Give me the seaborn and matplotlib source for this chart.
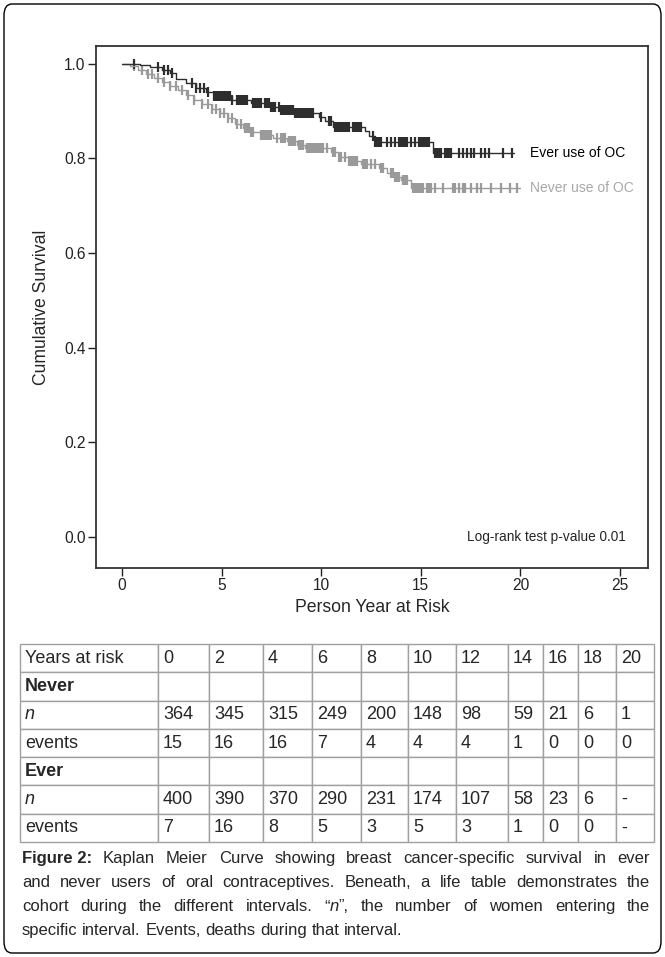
import numpy as np
import pandas as pd
import matplotlib
matplotlib.use("Agg")
import matplotlib.pyplot as plt
from matplotlib.patches import FancyBboxPatch
import seaborn as sns

# Kaplan-Meier step points (years, cumulative survival)
ever_time = [0, 0.9, 1.4, 2.0, 2.4, 2.7, 3.2, 3.7, 4.2, 4.6, 5.5, 6.5, 7.5, 8.0, 8.7,
             9.9, 10.2, 10.6, 12.2, 12.4, 12.7, 15.6, 19.7]
ever_surv = [1.0, 0.996, 0.992, 0.986, 0.979, 0.968, 0.958, 0.949, 0.940, 0.931, 0.924,
             0.916, 0.909, 0.902, 0.896, 0.888, 0.878, 0.867, 0.857, 0.846, 0.834, 0.811, 0.811]
never_time = [0, 0.4, 0.8, 1.2, 1.6, 2.0, 2.4, 2.8, 3.2, 3.6, 4.0, 4.5, 4.9, 5.3, 5.7, 6.1,
              6.5, 7.0, 7.6, 8.3, 8.8, 9.2, 10.5, 10.9, 11.4, 12.0, 12.9, 13.3, 13.7, 14.0,
              14.5, 20.0]
never_surv = [1.0, 0.994, 0.986, 0.978, 0.970, 0.962, 0.953, 0.944, 0.934, 0.922, 0.914,
              0.905, 0.895, 0.884, 0.872, 0.863, 0.856, 0.849, 0.842, 0.836, 0.828, 0.822,
              0.813, 0.803, 0.795, 0.788, 0.779, 0.769, 0.760, 0.754, 0.737, 0.737]

# censoring times (the "+" marks)
ever_cens = [0.6, 1.8, 2.1, 2.3, 2.5, 3.5, 3.7, 3.9, 4.1, 4.3,
             4.6, 4.65, 4.7, 4.75, 4.8, 4.85, 4.9, 4.95, 5.0, 5.05, 5.1, 5.2, 5.3, 5.4, 5.5,
             5.8, 5.85, 5.9, 6.0, 6.1, 6.2, 6.3,
             6.6, 6.7, 6.8, 6.9, 7.0,
             7.2, 7.3, 7.4, 7.5, 7.6, 7.7,
             7.9, 8.0, 8.1, 8.2, 8.3, 8.4, 8.5, 8.6, 8.7, 8.8, 8.9, 9.0, 9.1, 9.2, 9.3,
             9.4, 9.5, 9.6,
             10.0, 10.4, 10.5, 10.7, 10.8, 10.9, 11.0, 11.1, 11.2, 11.3, 11.4, 11.6, 11.7,
             11.8, 11.9, 12.0,
             12.6, 12.7, 12.8, 12.9, 13.0, 13.3, 13.5, 13.7, 13.9, 14.0, 14.1, 14.2, 14.3,
             14.5, 14.7, 14.9, 15.0, 15.1, 15.2, 15.3, 15.4,
             15.7, 15.75, 15.8, 15.9, 16.0, 16.2, 16.3, 16.4, 16.5,
             16.9, 17.1, 17.3, 17.5, 17.65, 18.0, 18.2, 18.4, 19.1, 19.6]
never_cens = [0.6, 1.0, 1.3, 1.5, 1.8, 2.1, 2.4, 2.7, 3.0, 3.3, 3.6, 4.0, 4.3, 4.5, 4.7,
              4.9, 5.1, 5.3, 5.5, 5.8, 6.0, 6.2, 6.3, 6.4, 6.5, 6.6,
              7.0, 7.1, 7.2, 7.3, 7.4, 7.5, 7.8, 8.0, 8.1, 8.2, 8.4, 8.5, 8.6, 8.7,
              8.9, 9.0, 9.1, 9.3, 9.4, 9.5, 9.6, 9.7, 9.8, 9.9, 10.0, 10.1, 10.3,
              10.6, 10.7, 10.9, 11.0, 11.2, 11.4, 11.5, 11.6, 11.7, 11.8, 12.1, 12.2, 12.3,
              12.5, 12.7, 13.0, 13.1, 13.5, 13.6, 13.7, 13.8, 13.9, 14.1, 14.2, 14.3,
              14.6, 14.7, 14.8, 14.9, 15.0, 15.1, 15.3, 15.4, 15.5, 15.7, 16.1, 16.6, 16.7,
              16.9, 17.1, 17.2, 17.5, 17.8, 18.0, 18.5, 19.0, 19.5, 19.85]

# life table
years_at_risk = ['0', '2', '4', '6', '8', '10', '12', '14', '16', '18', '20']
never_n = ['364', '345', '315', '249', '200', '148', '98', '59', '21', '6', '1']
never_events = ['15', '16', '16', '7', '4', '4', '4', '1', '0', '0', '0']
ever_n = ['400', '390', '370', '290', '231', '174', '107', '58', '23', '6', '-']
ever_events = ['7', '16', '8', '5', '3', '5', '3', '1', '0', '0', '-']

DARK = '#2e2e2e'
GREY = '#9a9a9a'

W, H = 665, 957


def step_value(times, surv, t):
    idx = np.searchsorted(times, t, side='right') - 1
    return np.asarray(surv)[idx]


curves = pd.concat([
    pd.DataFrame({'time': ever_time, 'surv': ever_surv, 'group': 'Ever'}),
    pd.DataFrame({'time': never_time, 'surv': never_surv, 'group': 'Never'}),
])
cens = pd.concat([
    pd.DataFrame({'time': ever_cens, 'surv': step_value(ever_time, ever_surv, ever_cens),
                  'group': 'Ever'}),
    pd.DataFrame({'time': never_cens, 'surv': step_value(never_time, never_surv, never_cens),
                  'group': 'Never'}),
])
pal = {'Ever': DARK, 'Never': GREY}

sns.set_style("ticks")
plt.rcParams['font.family'] = ['Liberation Sans', 'DejaVu Sans']

fig = plt.figure(figsize=(W / 100, H / 100), dpi=100)

# outer rounded frame
fig.patches.append(FancyBboxPatch((4 / W, 4 / H), (W - 8) / W, (H - 8) / H,
                                  boxstyle="round,pad=0,rounding_size=0.012",
                                  transform=fig.transFigure, fill=False,
                                  edgecolor='black', linewidth=1.0))

# ---- survival plot
ax = fig.add_axes([96 / W, 1 - 568 / H, (648 - 96) / W, (568 - 46) / H])
# draw Never first so Ever sits on top
for g in ['Never', 'Ever']:
    sns.lineplot(data=curves[curves.group == g], x='time', y='surv', color=pal[g],
                 drawstyle='steps-post', estimator=None, linewidth=1.0, ax=ax, legend=False)
    sns.scatterplot(data=cens[cens.group == g], x='time', y='surv', color=pal[g],
                    marker='|', s=42, linewidth=1.6, ax=ax, legend=False)

ax.set_xlim(-1.3, 26.4)
ax.set_ylim(-0.065, 1.037)
ax.set_xticks([0, 5, 10, 15, 20, 25])
ax.set_yticks([0.0, 0.2, 0.4, 0.6, 0.8, 1.0])
ax.set_yticklabels(['0.0', '0.2', '0.4', '0.6', '0.8', '1.0'])
ax.tick_params(labelsize=11.2, length=6, width=1.0, colors='#222222', pad=1.5)
for sp in ax.spines.values():
    sp.set_visible(True)
    sp.set_linewidth(1.3)
    sp.set_color('#333333')
ax.set_xlabel('Person Year at Risk', fontsize=12.7, labelpad=4)
ax.set_ylabel('Cumulative Survival', fontsize=12.7, labelpad=10)

ax.text(20.5, ever_surv[-1], 'Ever use of OC', fontsize=10, color='black', va='center')
ax.text(20.5, never_surv[-1], 'Never use of OC', fontsize=10, color='#a8a8a8', va='center')
ax.text(25.3, 0.0, 'Log-rank test p-value 0.01', fontsize=9.8, ha='right', va='center')

# ---- life table
tax = fig.add_axes([20 / W, 1 - 842 / H, (654 - 20) / W, (842 - 644) / H])
tax.axis('off')
rows = [['Years at risk'] + years_at_risk,
        ['Never'] + [''] * len(years_at_risk),
        ['n'] + never_n,
        ['events'] + never_events,
        ['Ever'] + [''] * len(years_at_risk),
        ['n'] + ever_n,
        ['events'] + ever_events]
col_px = [138, 51, 54, 49, 49, 47, 48, 52, 35, 35, 38, 38]
col_w = [c / sum(col_px) for c in col_px]
tbl = tax.table(cellText=rows, colWidths=col_w, cellLoc='left', bbox=[0, 0, 1, 1])
tbl.auto_set_font_size(False)
tbl.set_fontsize(13)
for (r, c), cell in tbl.get_celld().items():
    cell.set_edgecolor('#a0a0a0')
    cell.set_linewidth(1.0)
    cell.PAD = 5 / col_px[c]
    txt = cell.get_text()
    if c == 0 and r in (1, 4):
        txt.set_fontweight('bold')
    if c == 0 and r in (2, 5):
        txt.set_style('italic')

# ---- caption (justified by hand)
fig.canvas.draw()
renderer = fig.canvas.get_renderer()
CAP = 12.0
R, B, I = ('normal', 'normal'), ('bold', 'normal'), ('normal', 'italic')


def put_line(words, y_px, justify, x0=22, x1=650):
    arts = []
    widths = []
    for word in words:
        parts = []
        wsum = 0
        for text, (weight, style) in word:
            t = fig.text(0, 1 - y_px / H, text, fontsize=CAP, fontweight=weight,
                         style=style, va='baseline')
            wpx = t.get_window_extent(renderer).width
            parts.append((t, wpx))
            wsum += wpx
        arts.append(parts)
        widths.append(wsum)
    a = fig.text(0, 0, 'a a', fontsize=CAP)
    b = fig.text(0, 0, 'aa', fontsize=CAP)
    space = a.get_window_extent(renderer).width - b.get_window_extent(renderer).width
    a.remove()
    b.remove()
    gap = (x1 - x0 - sum(widths)) / (len(words) - 1) if justify else space
    x = x0
    for parts, wsum in zip(arts, widths):
        xx = x
        for t, wpx in parts:
            t.set_x(xx / W)
            xx += wpx
        x += wsum + gap


def words_of(s, style=R):
    return [[(w, style)] for w in s.split()]


line1 = [[('Figure 2:', B)]] + words_of('Kaplan Meier Curve showing breast cancer-specific survival in ever')
line2 = words_of('and never users of oral contraceptives. Beneath, a life table demonstrates the')
line3 = words_of('cohort during the different intervals.') + [[('\u201c', R), ('n', I), ('\u201d,', R)]] + \
    words_of('the number of women entering the')
line4 = words_of('specific interval. Events, deaths during that interval.')

put_line(line1, 863, True)
put_line(line2, 887, True)
put_line(line3, 911, True)
put_line(line4, 935, False)

fig.savefig('out.png', dpi=100)
